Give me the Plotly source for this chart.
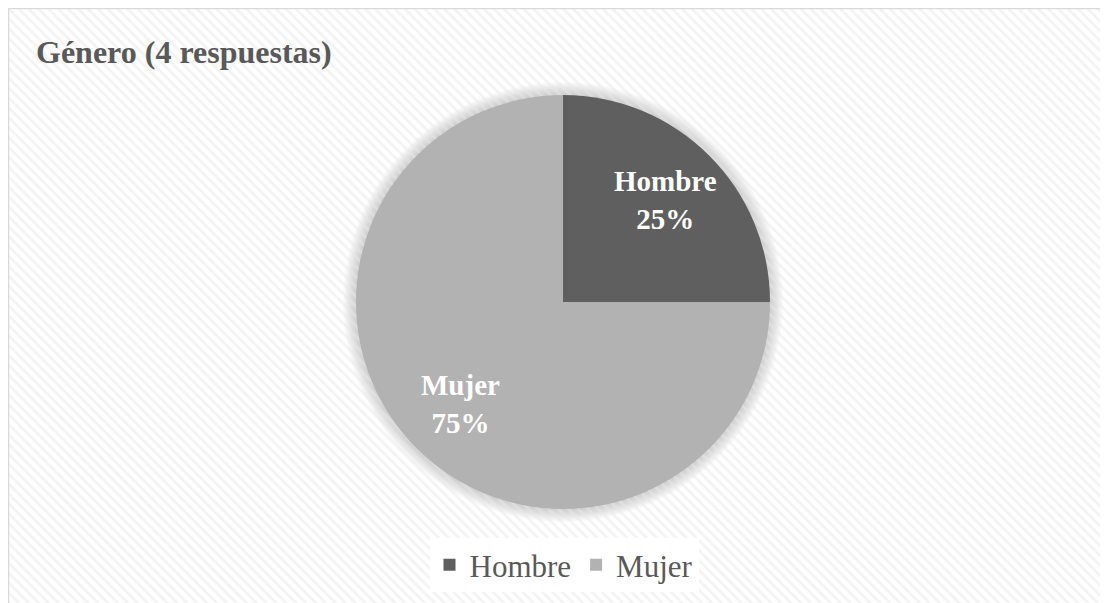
import math
import plotly.graph_objects as go

labels = ["Hombre", "Mujer"]
values = [1, 3]
colors = ["#5f5f5f", "#b2b2b2"]
title_text = "Género (4 respuestas)"

# the page adds an 8px body margin, so the figure is 8px smaller than the window
W, H = 1100, 595
cx, cy, R = 555, 294, 207  # pie center/radius in figure pixels (from top-left)
label_r = 0.7 * R

fig = go.Figure()

# hatched background (decorative)
fig.add_trace(go.Scatter(
    x=[0, 1, 1, 0, 0], y=[0, 0, 1, 1, 0], mode="lines", fill="toself",
    line=dict(width=0), fillcolor="rgba(0,0,0,0)",
    fillpattern=dict(shape="\\", fgcolor="#e8e8e8", bgcolor="rgba(255,255,255,0)",
                     size=7, solidity=0.4),
    hoverinfo="skip", showlegend=False,
))

fig.add_trace(go.Pie(
    labels=labels, values=values, sort=False, direction="clockwise", rotation=0,
    marker=dict(colors=colors, line=dict(width=0)),
    textinfo="none",
    domain=dict(x=[(cx - R) / W, (cx + R) / W], y=[(H - cy - R) / H, (H - cy + R) / H]),
    showlegend=False, hoverinfo="label+percent",
))

# legend entries with larger square swatches
for lab, col in zip(labels, colors):
    fig.add_trace(go.Scatter(
        x=[None], y=[None], mode="markers", name=lab,
        marker=dict(symbol="square", size=16, color=col),
        showlegend=True, hoverinfo="skip",
    ))

# slice labels at the middle angle of each slice
total = sum(values)
annotations = []
cum = 0
for lab, v in zip(labels, values):
    mid = (cum + v / 2) / total * 2 * math.pi  # clockwise from 12 o'clock
    cum += v
    px = cx + label_r * math.sin(mid)
    py = cy - label_r * math.cos(mid)
    pct = round(100 * v / total)
    annotations.append(dict(
        text=f"<b>{lab}<br>{pct}%</b>", xref="paper", yref="paper",
        x=px / W, y=(H - py) / H, xanchor="center", yanchor="middle",
        showarrow=False, align="center",
        font=dict(family="Liberation Serif", size=29, color="white"),
    ))

shapes = []
# soft shadow around pie
for i in range(1, 14):
    r = R + i
    shapes.append(dict(type="circle", xref="paper", yref="paper",
                       x0=(cx - r) / W, x1=(cx + r) / W,
                       y0=(H - cy - r) / H, y1=(H - cy + r) / H,
                       fillcolor="rgba(120,120,120,0.03)", line=dict(width=0),
                       layer="below"))
# frame
shapes.append(dict(type="rect", xref="paper", yref="paper",
                   x0=0.6 / W, x1=1.02, y0=-0.02, y1=(H - 0.6) / H,
                   line=dict(color="#d9d9d9", width=1.3), fillcolor="rgba(0,0,0,0)",
                   layer="above"))

fig.update_layout(
    width=W, height=H,
    margin=dict(l=0, r=0, t=0, b=0),
    paper_bgcolor="white", plot_bgcolor="rgba(0,0,0,0)",
    xaxis=dict(visible=False, range=[0, 1], domain=[0, 1], fixedrange=True),
    yaxis=dict(visible=False, range=[0, 1], domain=[0, 1], fixedrange=True),
    title=dict(text="<b>" + title_text + "</b>", x=28 / W, xanchor="left",
               y=1 - 44 / H, yanchor="middle",
               font=dict(family="Liberation Serif", size=32, color="#595959")),
    legend=dict(orientation="h", x=556 / W, xanchor="center", y=(H - 557) / H, yanchor="middle",
                bgcolor="white", font=dict(family="Liberation Serif", size=31, color="#595959"),
                itemsizing="constant", tracegroupgap=0),
    annotations=annotations,
    shapes=shapes,
)

fig.write_html("out.html")
